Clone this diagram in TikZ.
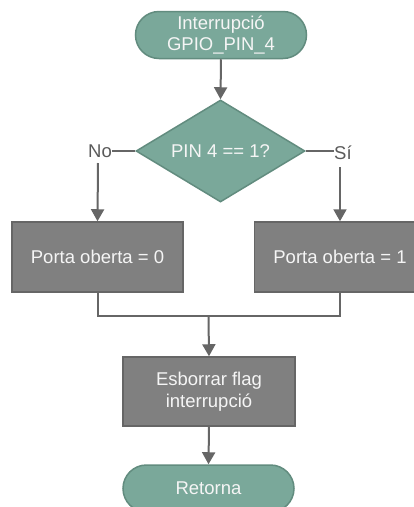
\documentclass[tikz,border=0pt]{standalone}
\usepackage{fontspec}
\setmainfont{Liberation Sans}
\usetikzlibrary{shapes.geometric,arrows.meta}
\definecolor{termfill}{RGB}{122,168,154}
\definecolor{termline}{RGB}{98,140,127}
\definecolor{procfill}{RGB}{128,128,128}
\definecolor{procline}{RGB}{102,102,102}
\definecolor{wire}{RGB}{102,102,102}
\definecolor{txt}{RGB}{245,245,245}
\definecolor{lbl}{RGB}{90,90,90}
\begin{document}
\begin{tikzpicture}[x=1pt,y=-1pt,
  font=\fontsize{18.5}{21}\selectfont,
  terminal/.style={rectangle, rounded corners=23.5pt, fill=termfill, draw=termline,
    line width=1.5pt, text=txt, minimum width=171pt, minimum height=47pt,
    inner sep=0pt, align=center, font=\fontsize{18.5}{21}\selectfont},
  decision/.style={diamond, aspect=1.66, fill=termfill, draw=termline, line width=1.5pt,
    text=txt, minimum width=169pt, minimum height=102pt, inner sep=0pt},
  process/.style={rectangle, fill=procfill, draw=procline, line width=1.5pt, text=txt,
    minimum width=171pt, minimum height=70pt, inner sep=0pt, align=center,
    font=\fontsize{18.5}{22}\selectfont},
  branch/.style={text=lbl, inner sep=0pt},
  link/.style={draw=wire, line width=2pt},
  flow/.style={link, -{Triangle[width=13pt,length=12pt]}}]
  \clip (0,0) rectangle (414,507);
  \fill[white] (0,0) rectangle (414,507);

  % nodes
  \node[terminal] (start) at (221,35) {Interrupció\\GPIO\_PIN\_4};
  \node[decision] (test) at (220.5,151) {PIN 4 == 1?};
  \node[branch] (no) at (100,151) {No};
  \node[branch, anchor=west] (si) at (334,153) {Sí};
  \node[process] (zero) at (97.5,257) {Porta oberta = 0};
  \node[process] (one) at (340,257) {Porta oberta = 1};
  \node[process, minimum width=172pt, minimum height=69pt] (flag) at (209,391.5)
    {Esborrar flag\\interrupció};
  \node[terminal] (ret) at (208.5,488.5) {Retorna};

  % join point below the two branches
  \coordinate (jl) at (97.5,316);
  \coordinate (jr) at (340,316);
  \coordinate (join) at (208.5,316);

  % connectors
  \draw[flow] (start.south) -- (test.north);
  \draw[link] (test.west) -- (no.east);
  \draw[link] (test.east) -- (si.west |- test.east);
  \draw[flow] (98,163) -- (zero.north);
  \draw[flow] (340,167) -- (one.north);
  \draw[link] (zero.south) -- (jl) -- (jr) -- (one.south);
  \draw[flow] (join) -- (flag.north);
  \draw[flow] (flag.south) -- (ret.north);
\end{tikzpicture}
\end{document}
